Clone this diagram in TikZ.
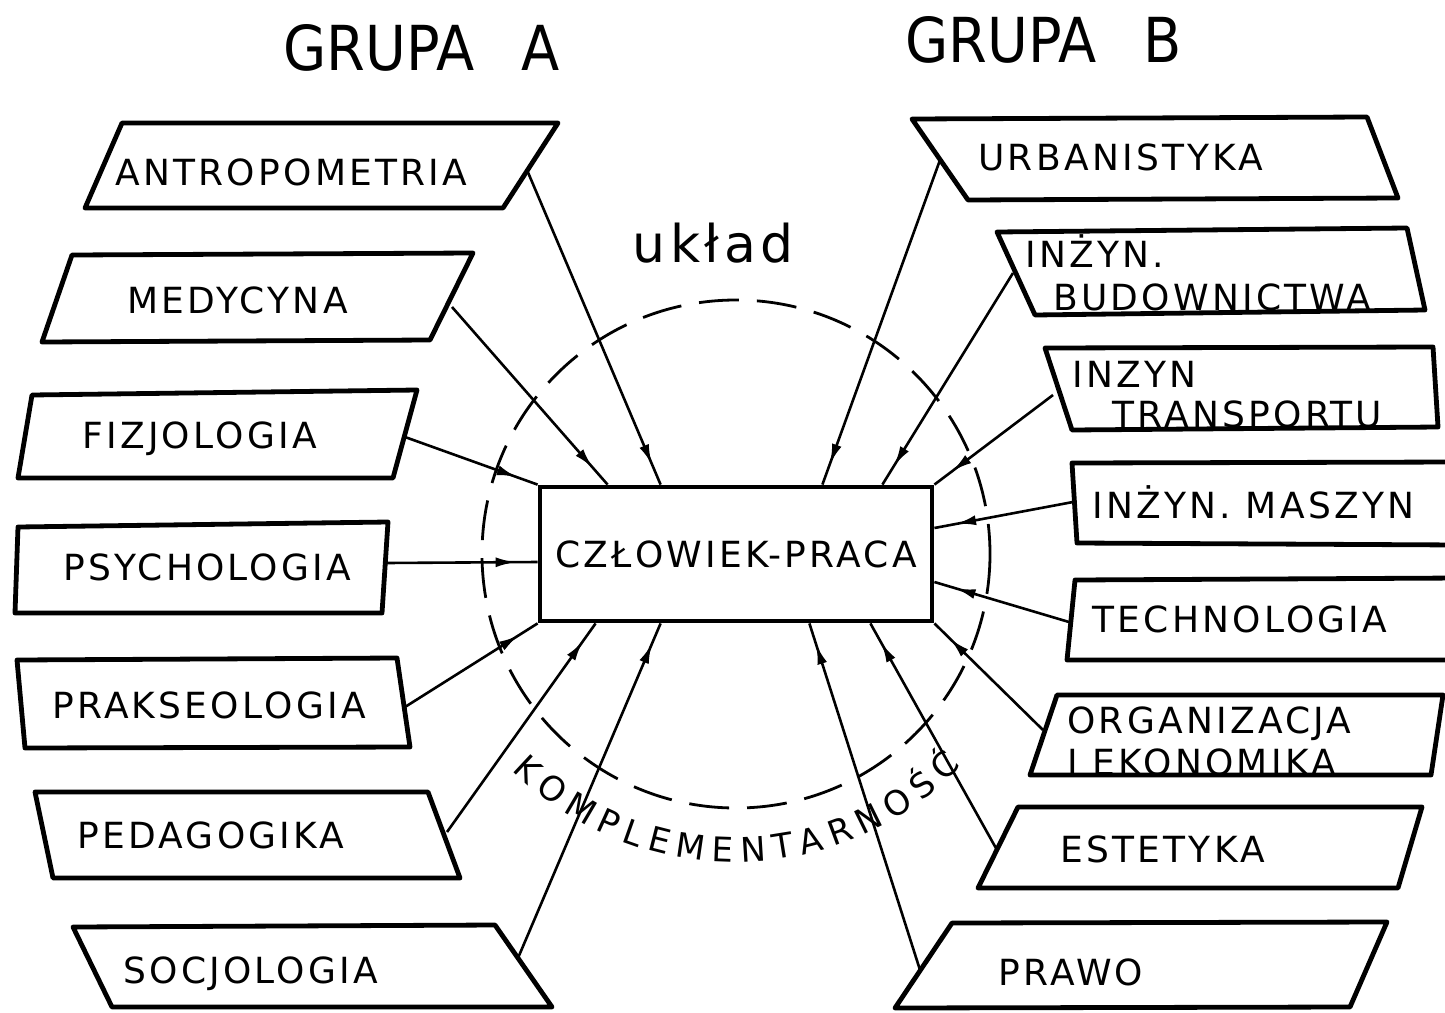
\documentclass[tikz,border=0pt]{standalone}
\usepackage{fontspec}
\usepackage{graphicx}
\setmainfont{DejaVu Sans}[LetterSpace=9]
\newfontfamily\titlefont{DejaVu Sans}
\usetikzlibrary{arrows.meta,decorations.markings,decorations.text}

\tikzset{
  box/.style={line width=2.4pt, line join=round},
  lbl/.style={font=\fontsize{18}{21}\selectfont, inner sep=0pt, anchor=base west},
  link/.style={line width=1.3pt, postaction={decorate},
    decoration={markings, mark=at position -11pt with {\arrow{Latex[length=10pt,width=5pt]}}}},
}

\begin{document}
\begin{tikzpicture}[x=0.5pt, y=-0.5pt]
        \useasboundingbox (0,0) rectangle (1445,1012);

        % titles
        \node[anchor=base west, inner sep=0pt, font=\titlefont\fontsize{31}{36}\selectfont] (grA) at (283,70) {\scalebox{0.9}[1]{GRUPA\hspace{0.85em}A}};
        \node[anchor=base west, inner sep=0pt, font=\titlefont\fontsize{31}{36}\selectfont] (grB) at (905,62) {\scalebox{0.9}[1]{GRUPA\hspace{0.85em}B}};

        % centre
        \node[draw, line width=2.4pt, minimum width=196pt, minimum height=67pt, inner sep=0pt, font=\fontsize{18}{21}\selectfont] (cp) at (736,554) {CZŁOWIEK-PRACA};
        \draw[line width=1.4pt, dash pattern=on 20pt off 9pt] (cp.center) circle[radius=254];
        \node[anchor=base west, inner sep=0pt, font=\fontsize{26}{30}\selectfont] (uklad) at (632,262) {układ};
        \path[decorate, decoration={text along path, text align={fit to path}, text={|\fontsize{17}{20}\selectfont|KOMPLEMENTARNOŚĆ}}]
            (512,770) arc[start angle=135, end angle=44, radius=315];

        % Grupa A
        \draw[box] (122,123) -- (558,123) -- (503,208) -- (85,208) -- cycle;
        \node[lbl] (antro) at (115,185) {ANTROPOMETRIA};
        \coordinate (antro-r) at (527,170);

        \draw[box] (72,255) -- (473,253) -- (430,340) -- (42,342) -- cycle;
        \node[lbl] (medy) at (127,313) {MEDYCYNA};
        \coordinate (medy-r) at (452,307);

        \draw[box] (32,395) -- (417,390) -- (393,478) -- (18,478) -- cycle;
        \node[lbl] (fizjo) at (82,448) {FIZJOLOGIA};
        \coordinate (fizjo-r) at (405,437);

        \draw[box] (18,527) -- (388,522) -- (382,613) -- (15,613) -- cycle;
        \node[lbl] (psych) at (63,580) {PSYCHOLOGIA};
        \coordinate (psych-r) at (386,563);

        \draw[box] (17,660) -- (397,658) -- (410,747) -- (25,748) -- cycle;
        \node[lbl] (praks) at (52,718) {PRAKSEOLOGIA};
        \coordinate (praks-r) at (405,707);

        \draw[box] (35,792) -- (428,792) -- (460,878) -- (53,878) -- cycle;
        \node[lbl] (pedag) at (77,848) {PEDAGOGIKA};
        \coordinate (pedag-r) at (447,832);

        \draw[box] (73,927) -- (495,925) -- (552,1007) -- (112,1007) -- cycle;
        \node[lbl] (socjo) at (123,983) {SOCJOLOGIA};
        \coordinate (socjo-r) at (518,958);

        % Grupa B
        \draw[box] (912,119) -- (1367,117) -- (1398,198) -- (968,200) -- cycle;
        \node[lbl] (urban) at (978,170) {URBANISTYKA};
        \coordinate (urban-l) at (940,160);

        \draw[box] (997,232) -- (1407,228) -- (1425,310) -- (1035,315) -- cycle;
        \node[lbl] (budA) at (1025,267) {INŻYN.};
        \node[lbl] (budB) at (1053,310) {BUDOWNICTWA};
        \coordinate (bud-l) at (1013,273);

        \draw[box] (1045,348) -- (1433,347) -- (1438,427) -- (1072,430) -- cycle;
        \node[lbl] (trA) at (1072,387) {INZYN};
        \node[lbl] (trB) at (1112,427) {TRANSPORTU};
        \coordinate (tr-l) at (1053,395);

        \draw[box] (1460,462) -- (1072,463) -- (1077,543) -- (1460,545);
        \node[lbl] (masz) at (1092,518) {INŻYN. MASZYN};
        \coordinate (masz-l) at (1073,502);

        \draw[box] (1460,578) -- (1075,580) -- (1067,660) -- (1460,660);
        \node[lbl] (techn) at (1092,632) {TECHNOLOGIA};
        \coordinate (techn-l) at (1069,622);

        \draw[box] (1057,695) -- (1443,695) -- (1431,775) -- (1030,775) -- cycle;
        \node[lbl] (orgA) at (1067,733) {ORGANIZACJA};
        \node[lbl] (orgB) at (1067,775) {I EKONOMIKA};
        \coordinate (org-l) at (1043,730);

        \draw[box] (1018,807) -- (1422,807) -- (1398,888) -- (978,888) -- cycle;
        \node[lbl] (estet) at (1060,862) {ESTETYKA};
        \coordinate (estet-l) at (997,850);

        \draw[box] (952,923) -- (1387,922) -- (1350,1007) -- (895,1008) -- cycle;
        \node[lbl] (prawo) at (998,985) {PRAWO};
        \coordinate (prawo-l) at (920,970);

        % links
        \draw[link] (antro-r) -- ([xshift=61.5pt]cp.north west);
        \draw[link] (medy-r) -- ([xshift=35pt]cp.north west);
        \draw[link] (fizjo-r) -- (cp.north west);
        \draw[link] (psych-r) -- ([yshift=-4pt]cp.west);
        \draw[link] (praks-r) -- (cp.south west);
        \draw[link] (pedag-r) -- ([xshift=29pt]cp.south west);
        \draw[link] (socjo-r) -- ([xshift=61.5pt]cp.south west);

        \draw[link] (urban-l) -- ([xshift=-56pt]cp.north east);
        \draw[link] (bud-l) -- ([xshift=-26pt]cp.north east);
        \draw[link] (tr-l) -- (cp.north east);
        \draw[link] (masz-l) -- ([yshift=13pt]cp.east);
        \draw[link] (techn-l) -- ([yshift=-14pt]cp.east);
        \draw[link] (org-l) -- (cp.south east);
        \draw[link] (estet-l) -- ([xshift=-32pt]cp.south east);
        \draw[link] (prawo-l) -- ([xshift=-62.5pt]cp.south east);
\end{tikzpicture}
\end{document}
